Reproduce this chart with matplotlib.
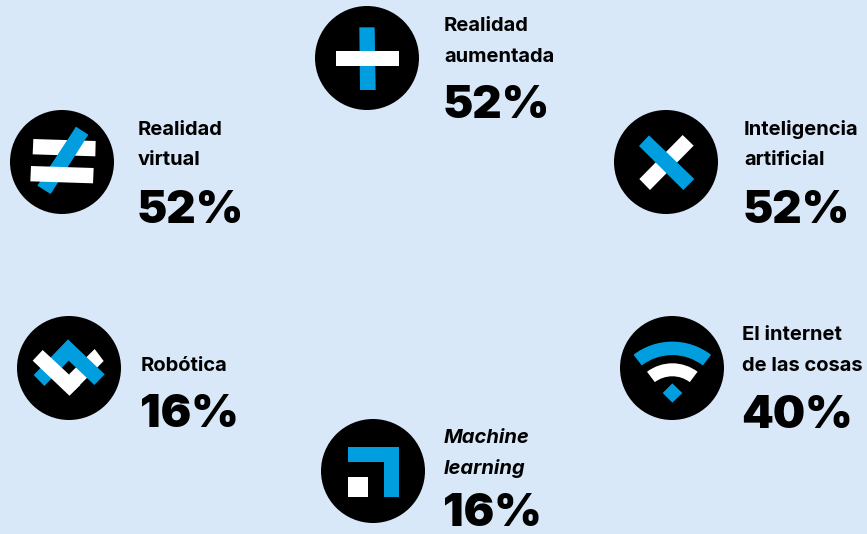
import matplotlib
matplotlib.use("Agg")
import matplotlib.pyplot as plt
from matplotlib.patches import Circle, Polygon, Wedge

# Data
categories = [
    ["Realidad", "aumentada"],
    ["Inteligencia", "artificial"],
    ["El internet", "de las cosas"],
    ["Machine", "learning"],
    ["Robótica"],
    ["Realidad", "virtual"],
]
values = [52, 52, 40, 16, 16, 52]
italic_flags = [False, False, False, True, False, False]

BG = "#D8E8F8"
BLUE = "#009DDF"
WHITE = "#FFFFFF"
INK = "#000000"

W, H = 867, 534
fig = plt.figure(figsize=(W / 100, H / 100), dpi=100, facecolor=BG)
ax = fig.add_axes([0, 0, 1, 1])
ax.set_xlim(0, W)
ax.set_ylim(H, 0)
ax.axis("off")


def poly(pts, color, off, z=3):
    xy = [(off[0] + x / 3, off[1] + y / 3) for x, y in pts]
    ax.add_patch(Polygon(xy, closed=True, fc=color, ec="none", zorder=z))


def disc(cx, cy):
    ax.add_patch(Circle((cx, cy), 52, fc="black", ec="none", zorder=2))


def icon_plus():
    disc(367, 58)
    o = (300, 0)
    poly([(178, 82), (224, 82), (227, 270), (180, 270)], BLUE, o, 3)
    poly([(108, 153), (296, 153), (296, 199), (108, 199)], WHITE, o, 4)


def icon_neq():
    disc(62, 162)
    o = (20, 120)
    poly([(40, 57), (227, 63), (226, 109), (38, 103)], WHITE, o, 3)
    poly([(168, 20), (205, 44), (92, 222), (52, 197)], BLUE, o, 4)
    poly([(33, 138), (221, 144), (219, 190), (31, 184)], WHITE, o, 5)


def icon_x():
    disc(666, 162)
    o = (600, 100)
    poly([(248, 105), (281, 137), (150, 270), (118, 237)], WHITE, o, 3)
    poly([(147, 106), (283, 237), (250, 270), (117, 138)], BLUE, o, 4)


def icon_robot():
    disc(69, 368)
    o = (27, 330)
    poly([(127, 197), (230, 93), (203, 57), (127, 132)], WHITE, o, 3)
    poly([(123, 28), (233, 133), (202, 165), (125, 92), (52, 168), (20, 135)], BLUE, o, 4)
    poly([(47, 60), (17, 92), (127, 197), (160, 165)], WHITE, o, 5)


def icon_wifi():
    disc(672, 368)
    c = (672.3, 405.3)
    ax.add_patch(Wedge(c, 63.7, 232.5, 307.5, width=13.5, fc=BLUE, ec="none", zorder=3))
    ax.add_patch(Wedge(c, 42, 233, 307, width=13, fc=WHITE, ec="none", zorder=3))
    poly([(127, 160), (157, 189), (127, 218), (98, 189)], BLUE, (630, 330), 3)


def icon_ml():
    disc(373, 471)
    o = (310, 410)
    poly([(115, 110), (267, 110), (267, 261), (221, 261), (221, 155), (115, 155)], BLUE, o, 3)
    poly([(114, 201), (174, 201), (174, 261), (114, 261)], WHITE, o, 3)


for draw in [icon_plus, icon_x, icon_wifi, icon_ml, icon_robot, icon_neq]:
    draw()

# Layout: text x, label baselines, value baseline
text_x = [444, 744, 742, 444, 141, 138]
label_y = [[31, 62], [135, 165], [340, 371], [443, 474], [371], [135, 165]]
value_y = [118, 223, 428, 526, 427, 223]

for lines, v, it, x, ys, vy in zip(categories, values, italic_flags, text_x, label_y, value_y):
    for s, y in zip(lines, ys):
        ax.text(x, y, s, family="Inter", weight="bold", fontsize=14.5, color=INK,
                style="italic" if it else "normal", va="baseline", ha="left", zorder=6)
    ax.text(x - 1, vy, f"{v}%", family="Inter", weight="black", fontsize=32.8, color=INK,
            va="baseline", ha="left", zorder=6)

fig.savefig("out.png", dpi=100, facecolor=BG)
